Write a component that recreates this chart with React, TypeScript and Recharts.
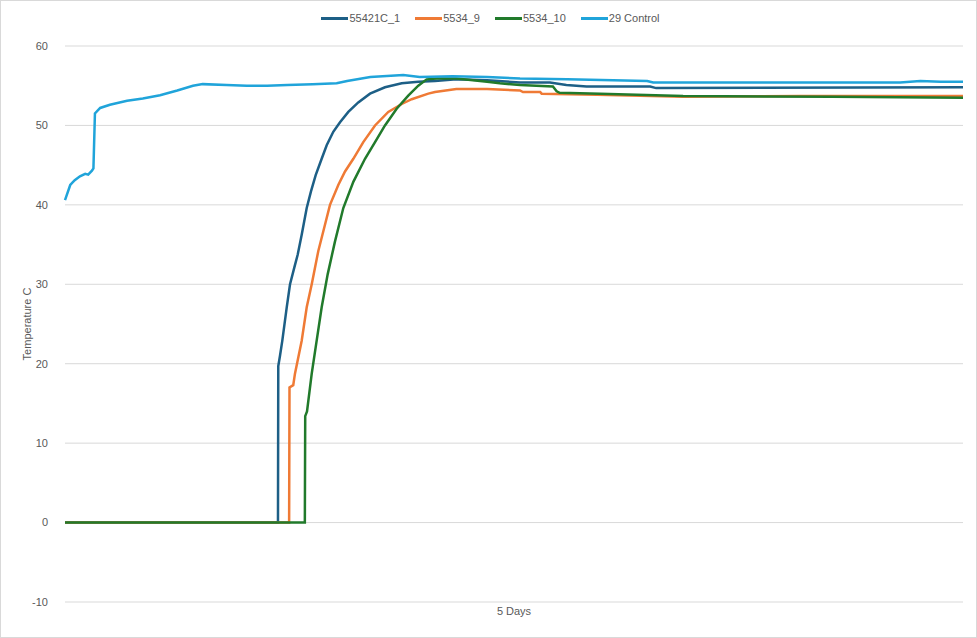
import { CartesianGrid, Legend, Line, LineChart, XAxis, YAxis } from "recharts";

// time in hours over the 5 day run, temperature in C
const controlHours = [0, 0.7, 1.3, 2.0, 2.7, 3.1, 3.6, 3.8, 4.0, 4.7, 6.0, 8.3, 10.4, 12.7, 15.0, 17.1, 18.4, 21.6, 24.3, 27.0, 29.7, 33.1, 36.3, 37.7, 40.8, 45.2, 47.4, 51.8, 56.4, 60.8, 67.1, 77.8, 78.6, 88.0, 98.2, 105.0, 111.6, 114.3, 117.0, 120];
const controlTemps = [40.6, 42.5, 43.1, 43.6, 43.9, 43.8, 44.3, 44.6, 51.5, 52.2, 52.6, 53.1, 53.4, 53.8, 54.4, 55.0, 55.2, 55.1, 55.0, 55.0, 55.1, 55.2, 55.3, 55.6, 56.1, 56.35, 56.1, 56.2, 56.1, 55.9, 55.8, 55.6, 55.4, 55.4, 55.4, 55.4, 55.4, 55.6, 55.5, 55.5];

const c1Hours = [0, 28.46, 28.5, 28.73, 29.04, 29.63, 30.07, 30.64, 31.1, 31.63, 32.3, 32.87, 33.5, 34.3, 34.97, 35.85, 36.75, 37.86, 39.19, 40.76, 42.76, 45.0, 47.21, 49.44, 52.3, 56.4, 60.8, 64.8, 67.0, 69.7, 78.2, 79.0, 120];
const c1Temps = [0, 0, 19.7, 21.0, 22.9, 27.1, 30.0, 32.1, 33.75, 36.25, 39.6, 41.7, 43.75, 45.8, 47.5, 49.2, 50.4, 51.7, 52.9, 54.0, 54.8, 55.3, 55.5, 55.6, 55.8, 55.7, 55.4, 55.4, 55.1, 54.9, 54.9, 54.7, 54.8];

const s9Hours = [0, 29.95, 30.0, 30.5, 30.73, 31.63, 32.3, 32.97, 33.85, 34.74, 35.41, 36.52, 37.42, 38.53, 39.86, 41.43, 43.2, 45.0, 46.33, 48.55, 49.44, 52.3, 56.4, 60.8, 61.2, 63.5, 63.7, 71.1, 82.6, 98.2, 120];
const s9Temps = [0, 0, 17.0, 17.3, 18.75, 22.9, 27.1, 30.0, 34.2, 37.5, 40.0, 42.5, 44.2, 45.8, 47.9, 50.0, 51.7, 52.7, 53.3, 54.0, 54.2, 54.6, 54.6, 54.4, 54.2, 54.2, 54.0, 53.85, 53.6, 53.7, 53.7];

const s10Hours = [0, 32.05, 32.1, 32.34, 32.97, 33.63, 34.3, 35.1, 36.08, 37.19, 38.53, 40.09, 41.43, 42.76, 44.32, 45.87, 47.21, 48.33, 49.7, 52.3, 56.4, 58.1, 60.8, 65.2, 65.7, 66.1, 71.5, 82.6, 102.6, 120];
const s10Temps = [0, 0, 13.4, 14.0, 18.75, 22.9, 27.1, 31.25, 35.4, 39.6, 42.9, 45.8, 47.9, 50.0, 52.1, 53.75, 55.0, 55.8, 55.9, 55.9, 55.5, 55.3, 55.1, 54.9, 54.3, 54.1, 54.0, 53.7, 53.6, 53.5];

const yTicks = [-10, 0, 10, 20, 30, 40, 50, 60];

const seriesNames = ["55421C_1", "5534_9", "5534_10", "29 Control"];
const seriesColors = ["#1d5f86", "#ef7a35", "#217a2b", "#20a4da"];

const zip = (hs: number[], ts: number[]) => hs.map((h, i) => ({ h, t: ts[i] }));

const series = [
  zip(c1Hours, c1Temps),
  zip(s9Hours, s9Temps),
  zip(s10Hours, s10Temps),
  zip(controlHours, controlTemps),
];

const font = "'Liberation Sans', Arial, sans-serif";

function LegendBox() {
  return (
    <div
      style={{
        height: 42,
        boxSizing: "border-box",
        paddingTop: 7,
        paddingLeft: 17,
        display: "flex",
        justifyContent: "center",
        fontFamily: font,
        fontSize: 11,
        color: "#595959",
      }}
    >
      {seriesNames.map((name, i) => (
        <div key={name} style={{ display: "flex", alignItems: "center", marginLeft: i ? 15 : 0, height: 14 }}>
          <span style={{ width: 27, height: 3, background: seriesColors[i], display: "inline-block", marginRight: 1 }} />
          <span>{name}</span>
        </div>
      ))}
    </div>
  );
}

export default function App() {
  return (
    <div
      style={{
        position: "absolute",
        left: 0,
        top: 0,
        width: 977,
        height: 638,
        border: "1px solid #d9d9d9",
        boxSizing: "border-box",
        background: "#fff",
      }}
    >
      <LineChart width={975} height={636} margin={{ top: 3, right: 13, left: 0, bottom: 0 }}>
        <CartesianGrid vertical={false} stroke="#d9d9d9" />
        <XAxis
          type="number"
          dataKey="h"
          domain={[0, 120]}
          tick={false}
          tickLine={false}
          axisLine={false}
          height={35}
          label={{ value: "5 Days", position: "insideTop", offset: 5, fill: "#595959", fontSize: 11, fontFamily: font }}
        />
        <YAxis
          type="number"
          domain={[-10, 60]}
          ticks={yTicks}
          width={64}
          axisLine={false}
          tickLine={false}
          tickMargin={11}
          tick={{ fill: "#595959", fontSize: 11, fontFamily: font }}
          label={{ value: "Temperature C", angle: -90, position: "center", dx: -6, fill: "#595959", fontSize: 11, fontFamily: font }}
        />
        <Legend verticalAlign="top" content={() => <LegendBox />} />
        {series.map((d, i) => (
          <Line
            key={seriesNames[i]}
            data={d}
            dataKey="t"
            name={seriesNames[i]}
            type="linear"
            stroke={seriesColors[i]}
            strokeWidth={2.5}
            dot={false}
            isAnimationActive={false}
          />
        ))}
      </LineChart>
    </div>
  );
}
